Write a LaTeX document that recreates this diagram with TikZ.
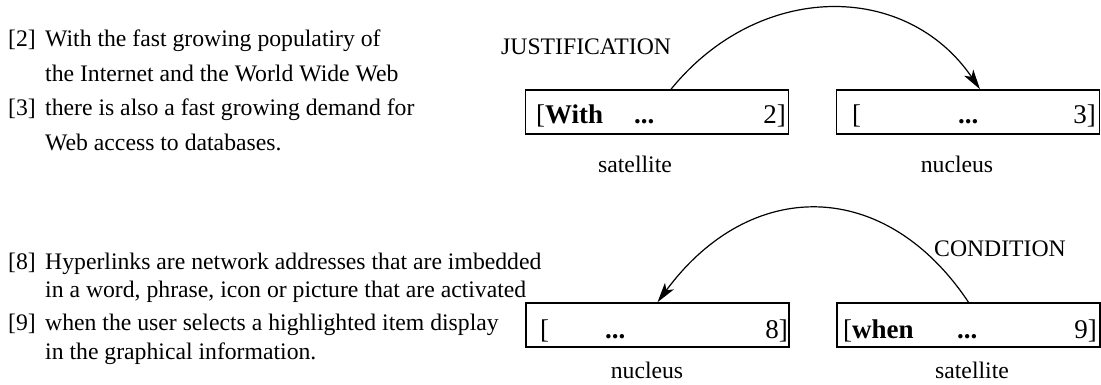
\documentclass[tikz,border=0pt]{standalone}
\usepackage{fontspec}
\setmainfont{Liberation Serif}
\usetikzlibrary{arrows.meta}
\tikzset{
  txt/.style={anchor=base west, inner sep=0pt, font=\fontsize{23.7pt}{28pt}\selectfont},
  lbl/.style={anchor=base, inner sep=0pt, font=\fontsize{23.7pt}{28pt}\selectfont},
  boxtxt/.style={anchor=base west, inner sep=0pt, font=\fontsize{27pt}{32pt}\selectfont},
  boxtxtr/.style={anchor=base east, inner sep=0pt, font=\fontsize{27pt}{32pt}\selectfont},
  segbox/.style={draw, line width=1.5pt, minimum width=263pt, minimum height=44pt, inner sep=0pt},
  rel/.style={line width=1.2pt, -{Stealth[length=20pt, width=11pt, inset=5pt]}}
}
\begin{document}
\begin{tikzpicture}[x=1pt,y=-1pt]
\useasboundingbox (0,0) rectangle (1101,385);
% left text, top block
\node[txt] (l2) at (8,47) {[2]};
\node[txt] (t2a) at (45,47) {With the fast growing populatiry of};
\node[txt] (t2b) at (45,81.5) {the Internet and the World Wide Web};
\node[txt] (l3) at (8,116) {[3]};
\node[txt] (t3a) at (45,116) {there is also a fast growing demand for};
\node[txt] (t3b) at (45,150.5) {Web access to databases.};
% left text, bottom block
\node[txt] (l8) at (8,269) {[8]};
\node[txt] (t8a) at (45,269) {Hyperlinks are network addresses that are imbedded};
\node[txt] (t8b) at (45,297) {in a word, phrase, icon or picture that are activated};
\node[txt] (l9) at (8,330) {[9]};
\node[txt] (t9a) at (45,330) {when the user selects a highlighted item display};
\node[txt] (t9b) at (45,359) {in the graphical information.};
% top boxes
\node[segbox] (s1) at (657,112) {};
\node[segbox] (n1) at (968,112) {};
\node[boxtxt] (s1a) at (536,124) {[\textbf{With}};
\node[boxtxt] (s1b) at (634,124) {\textbf{...}};
\node[boxtxtr] (s1c) at (786,124) {2]};
\node[boxtxt] (n1a) at (852,124) {[};
\node[boxtxt] (n1b) at (958,124) {\textbf{...}};
\node[boxtxtr] (n1c) at (1096,124) {3]};
\node[lbl] (s1l) at (635,172) {satellite};
\node[lbl] (n1l) at (957,172) {nucleus};
\node[txt] (just) at (501,55) {JUSTIFICATION};
% bottom boxes
\node[segbox] (n2) at (657.5,325) {};
\node[segbox] (s2) at (968.5,325) {};
\node[boxtxt] (n2a) at (540,338) {[};
\node[boxtxt] (n2b) at (605,338) {\textbf{...}};
\node[boxtxtr] (n2c) at (788,338) {8]};
\node[boxtxt] (s2a) at (843,338) {[\textbf{when}};
\node[boxtxt] (s2b) at (957,338) {\textbf{...}};
\node[boxtxtr] (s2c) at (1097,338) {9]};
\node[lbl] (n2l) at (647,378) {nucleus};
\node[lbl] (s2l) at (972,378) {satellite};
\node[txt] (cond) at (934,256) {CONDITION};
% relations
\draw[rel] ([xshift=14pt]s1.north) .. controls (759,-19) and (906,-19) .. ([xshift=12pt]n1.north);
\draw[rel] (s2.north) .. controls (885,177) and (750,177) .. (n2.north);
\end{tikzpicture}
\end{document}
